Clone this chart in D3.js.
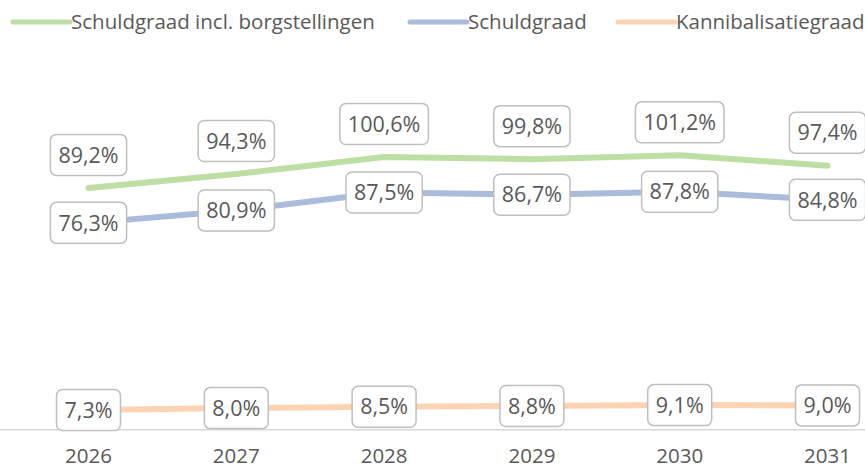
<!DOCTYPE html>
<html>
<head>
<meta charset="utf-8">
<script src="https://cdn.jsdelivr.net/npm/d3@7"></script>
<style>
  body { margin: 0; background: #fff; }
  svg { display: block; font-family: "Open Sans", sans-serif; }
</style>
</head>
<body>
<div id="chart"></div>
<script>
// data
var years = ["2026", "2027", "2028", "2029", "2030", "2031"];
var schuldInclBorg = [89.2, 94.3, 100.6, 99.8, 101.2, 97.4];
var schuld = [76.3, 80.9, 87.5, 86.7, 87.8, 84.8];
var kannibalisatie = [7.3, 8.0, 8.5, 8.8, 9.1, 9.0];
var seriesNames = ["Schuldgraad incl. borgstellingen", "Schuldgraad", "Kannibalisatiegraad"];

var width = 865, height = 471;

var series = [
    { name: seriesNames[0], values: schuldInclBorg, color: "#bddfa3", labelDy: -33 },
    { name: seriesNames[1], values: schuld, color: "#abbbdb", labelDy: 0 },
    { name: seriesNames[2], values: kannibalisatie, color: "#fcd4b4", labelDy: 0 }
];

var svg = d3.select("#chart").append("svg")
    .attr("width", width)
    .attr("height", height);

var x = d3.scaleBand()
    .domain(years)
    .range([14.6, 901.4]);

var y = d3.scaleLinear()
    .domain([0, 150])
    .range([429.8, 23]);

function cx(d) { return x(d) + x.bandwidth() / 2; }

// baseline axis
var axis = d3.axisBottom(x).tickSize(0).tickPadding(19);
var gx = svg.append("g")
    .attr("transform", "translate(0," + y(0) + ")")
    .call(axis);
gx.select(".domain").remove();
gx.append("line")
    .attr("x1", 0).attr("x2", width)
    .attr("y1", 0).attr("y2", 0)
    .attr("stroke", "#d9d9d9")
    .attr("stroke-width", 1.5);
gx.selectAll(".tick text")
    .attr("font-size", 20.5)
    .attr("font-family", "Open Sans, sans-serif")
    .attr("fill", "#595959");

var line = d3.line()
    .x(function(d, i) { return cx(years[i]); })
    .y(function(d) { return y(d); });

// lines
svg.selectAll(".serie")
    .data(series)
    .join("path")
    .attr("class", "serie")
    .attr("d", function(d) { return line(d.values); })
    .attr("fill", "none")
    .attr("stroke", function(d) { return d.color; })
    .attr("stroke-width", 6)
    .attr("stroke-linecap", "round")
    .attr("stroke-linejoin", "round");

// data labels in rounded boxes
function fmt(v) { return v.toFixed(1).replace(".", ",") + "%"; }

series.forEach(function(s) {
    var g = svg.append("g");
    s.values.forEach(function(v, i) {
        var lg = g.append("g")
            .attr("transform", "translate(" + cx(years[i]) + "," + (y(v) + s.labelDy) + ")");
        var rect = lg.append("rect");
        var t = lg.append("text")
            .attr("text-anchor", "middle")
            .attr("dy", "0.36em")
            .attr("font-size", 21.5)
            .attr("fill", "#595959")
            .text(fmt(v));
        var w = t.node().getComputedTextLength() + 16;
        var h = 41;
        rect.attr("x", -w / 2).attr("y", -h / 2)
            .attr("width", w).attr("height", h)
            .attr("rx", 6).attr("ry", 6)
            .attr("fill", "#fff")
            .attr("stroke", "#bfbfbf")
            .attr("stroke-width", 1.5);
    });
});

// legend
var legendX = [13, 410, 618];
var legend = svg.append("g");
series.forEach(function(s, i) {
    var lg = legend.append("g").attr("transform", "translate(" + legendX[i] + ",22)");
    lg.append("line")
        .attr("x1", 0).attr("x2", 57)
        .attr("stroke", s.color)
        .attr("stroke-width", 5)
        .attr("stroke-linecap", "round");
    lg.append("text")
        .attr("x", 58)
        .attr("dy", "0.35em")
        .attr("font-size", 20.5)
        .attr("fill", "#595959")
        .text(s.name);
});
</script>
</body>
</html>
